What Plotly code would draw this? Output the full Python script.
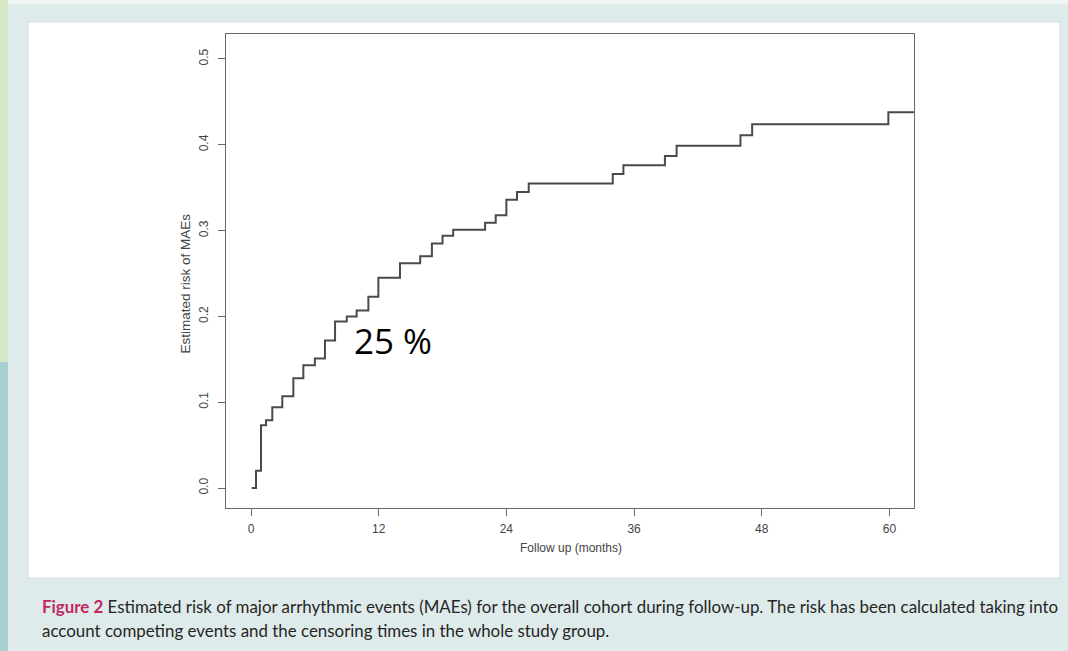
import plotly.graph_objects as go

# ---- data ----
months = [0.07, 0.47, 0.94, 1.41, 2.0, 2.94, 3.98, 4.92, 6.0, 6.95, 7.9, 9.0, 9.93,
          11.03, 11.97, 14.0, 15.9, 17.0, 18.0, 19.0, 22.0, 23.0, 24.0, 25.0, 26.1,
          34.0, 35.0, 38.9, 40.0, 46.0, 47.1, 59.9, 62.3]
risk = [0.0, 0.020, 0.073, 0.079, 0.094, 0.107, 0.128, 0.143, 0.151, 0.172, 0.194,
        0.200, 0.207, 0.223, 0.245, 0.262, 0.270, 0.285, 0.294, 0.301, 0.309, 0.318,
        0.336, 0.345, 0.355, 0.366, 0.376, 0.387, 0.399, 0.411, 0.424, 0.438, 0.438]
x_ticks = [0, 12, 24, 36, 48, 60]
y_ticks = [0.0, 0.1, 0.2, 0.3, 0.4, 0.5]
y_tick_labels = ["0.0", "0.1", "0.2", "0.3", "0.4", "0.5"]

W, H = 1068, 651


def px(x):
    return x / W


def py(y):
    return 1 - y / H


FONT = "Liberation Sans, Arial"

fig = go.Figure()
fig.add_trace(go.Scatter(
    x=months, y=risk, mode="lines", line=dict(shape="hv", color="#4a4a4a", width=2),
    hoverinfo="skip", showlegend=False))

axis_common = dict(showline=True, mirror=True, linecolor="#6a6a6a", linewidth=1,
                   ticks="outside", ticklen=7, tickcolor="#6a6a6a", tickwidth=1,
                   showgrid=False, zeroline=False)

fig.update_layout(
    width=W, height=H, autosize=False,
    margin=dict(l=0, r=0, t=0, b=0),
    paper_bgcolor="#deebea", plot_bgcolor="white",
    xaxis=dict(domain=[px(226), px(914)], range=[-2.35, 62.31],
               tickvals=x_ticks, ticktext=[str(v) for v in x_ticks],
               ticklabelstandoff=3,
               tickfont=dict(family=FONT, size=12, color="#444"), **axis_common),
    yaxis=dict(domain=[py(508), py(34)], range=[-0.0233, 0.5291],
               tickvals=y_ticks, ticktext=y_tick_labels, tickangle=-90,
               ticklabelstandoff=5,
               tickfont=dict(family=FONT, size=12, color="#444"), **axis_common),
    shapes=[
        dict(type="rect", xref="paper", yref="paper", x0=0, x1=1, y0=py(4), y1=1,
             fillcolor="#eef5f2", line_width=0, layer="below"),
        dict(type="rect", xref="paper", yref="paper", x0=0, x1=px(8), y0=py(362), y1=1,
             fillcolor="#d4e7c6", line_width=0, layer="below"),
        dict(type="rect", xref="paper", yref="paper", x0=0, x1=px(8), y0=0, y1=py(362),
             fillcolor="#a9d0d1", line_width=0, layer="below"),
        dict(type="rect", xref="paper", yref="paper", x0=px(28), x1=px(1060),
             y0=py(578), y1=py(22), fillcolor="white",
             line=dict(color="#d3dfdf", width=1), layer="below"),
    ],
    annotations=[
        dict(text="Follow up (months)", xref="paper", yref="paper",
             x=px(571), y=py(557), showarrow=False,
             font=dict(family=FONT, size=12, color="#444")),
        dict(text="Estimated risk of MAEs", xref="paper", yref="paper",
             x=px(176), y=py(283), showarrow=False, textangle=-90,
             font=dict(family=FONT, size=13.5, color="#444")),
        dict(text="25 %", xref="paper", yref="paper", x=px(393), y=py(340),
             showarrow=False, font=dict(family="Open Sans", size=35, color="black")),
        dict(text="<span style='color:#c0285f'><b>Figure 2</b></span> Estimated risk of major arrhythmic events (MAEs) for the overall cohort during follow-up. The risk has been calculated taking into",
             xref="paper", yref="paper", x=px(40), y=py(606), xanchor="left", yanchor="middle",
             align="left", showarrow=False,
             font=dict(family="Lato", size=16.9, color="#262626")),
        dict(text="account competing events and the censoring times in the whole study group.",
             xref="paper", yref="paper", x=px(40), y=py(630), xanchor="left", yanchor="middle",
             align="left", showarrow=False,
             font=dict(family="Lato", size=16.9, color="#262626")),
    ],
)

fig.write_html("out.html")
